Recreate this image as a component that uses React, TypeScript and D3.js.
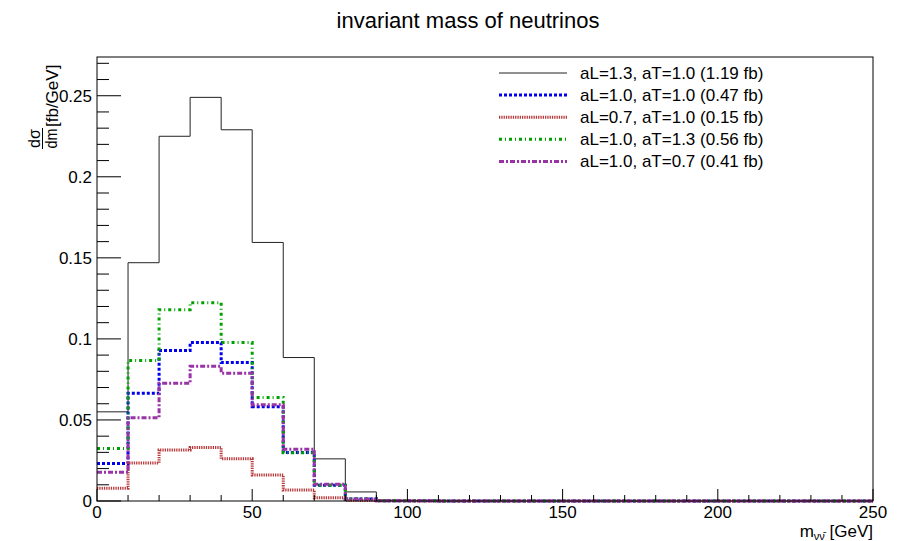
import React, { useRef, useEffect } from "react";
import * as d3 from "d3";

// bin lower edges (GeV), width 10
const binEdges = [0, 10, 20, 30, 40, 50, 60, 70, 80, 90, 100, 110, 120, 130, 140, 150, 160, 170, 180, 190, 200, 210, 220, 230, 240];
const binWidth = 10;

const aL13 = [0.055, 0.147, 0.225, 0.249, 0.229, 0.1595, 0.0885, 0.026, 0.0056, 0.0004, 0.0001, 0, 0, 0, 0, 0, 0, 0, 0, 0, 0, 0, 0, 0, 0];
const aL10 = [0.0231, 0.0664, 0.0928, 0.0978, 0.0854, 0.0582, 0.0299, 0.0097, 0.0012, 0.0002, 0.0001, 0, 0, 0, 0, 0, 0, 0, 0, 0, 0, 0, 0, 0, 0];
const aL07 = [0.0079, 0.0235, 0.0314, 0.033, 0.026, 0.0161, 0.0068, 0.002, 0.0003, 0.0001, 0, 0, 0, 0, 0, 0, 0, 0, 0, 0, 0, 0, 0, 0, 0];
const aT13 = [0.0324, 0.0866, 0.118, 0.1223, 0.0978, 0.0639, 0.0297, 0.0097, 0.0014, 0.0002, 0.0001, 0, 0, 0, 0, 0, 0, 0, 0, 0, 0, 0, 0, 0, 0];
const aT07 = [0.0178, 0.0514, 0.0726, 0.0831, 0.0788, 0.0594, 0.032, 0.0103, 0.0012, 0.0002, 0.0001, 0, 0, 0, 0, 0, 0, 0, 0, 0, 0, 0, 0, 0, 0];

const labels = [
  "aL=1.3, aT=1.0 (1.19 fb)",
  "aL=1.0, aT=1.0 (0.47 fb)",
  "aL=0.7, aT=1.0 (0.15 fb)",
  "aL=1.0, aT=1.3 (0.56 fb)",
  "aL=1.0, aT=0.7 (0.41 fb)",
];

const xMajor = [0, 50, 100, 150, 200, 250];
const yMajor = [0, 0.05, 0.1, 0.15, 0.2, 0.25];
const yLabels = ["0", "0.05", "0.1", "0.15", "0.2", "0.25"];

const FONT = "'Liberation Sans', Arial, Helvetica, sans-serif";

const App = () => {
  const ref = useRef<SVGSVGElement>(null);

  useEffect(() => {
    const width = 902;
    const height = 541;
    const m = { top: 57, right: 29, bottom: 40, left: 97 };

    const svg = d3.select(ref.current);
    svg.selectAll("*").remove();
    svg.attr("width", width).attr("height", height);

    const x = d3.scaleLinear().domain([0, 250]).range([m.left, width - m.right]);
    const y = d3.scaleLinear().domain([0, 0.2739]).range([height - m.bottom, m.top]);

    svg.append("rect").attr("width", width).attr("height", height).attr("fill", "#fff");

    // title
    svg.append("text")
      .attr("x", 468).attr("y", 28)
      .attr("text-anchor", "middle")
      .attr("font-family", FONT).attr("font-size", 22)
      .text("invariant mass of neutrinos");

    const series = [
      { data: aL13, color: "#222222", width: 1, dash: null },
      { data: aL10, color: "#0000ee", width: 3, dash: "3,2" },
      { data: aL07, color: "#b8393b", width: 3, dash: "1.3,1" },
      { data: aT13, color: "#00a000", width: 3, dash: "3,3,1,3" },
      { data: aT07, color: "#9933a6", width: 3, dash: "5,2,2,2" },
    ];

    const line = d3.line<[number, number]>()
      .x(d => x(d[0]))
      .y(d => y(d[1]))
      .curve(d3.curveStepAfter);

    const g = svg.append("g");
    series.forEach(s => {
      const pts: [number, number][] = binEdges.map((e, i) => [e, s.data[i]]);
      pts.push([binEdges[binEdges.length - 1] + binWidth, s.data[s.data.length - 1]]);
      const p = g.append("path")
        .attr("d", line(pts))
        .attr("fill", "none")
        .attr("stroke", s.color)
        .attr("stroke-width", s.width);
      if (s.dash) p.attr("stroke-dasharray", s.dash);
    });

    // frame
    svg.append("rect")
      .attr("x", m.left).attr("y", m.top)
      .attr("width", width - m.right - m.left)
      .attr("height", height - m.bottom - m.top)
      .attr("fill", "none").attr("stroke", "#000").attr("stroke-width", 1);

    // x ticks
    const x0 = height - m.bottom;
    d3.range(0, 251, 10).forEach(v => {
      const major = xMajor.includes(v);
      svg.append("line")
        .attr("x1", x(v)).attr("x2", x(v))
        .attr("y1", x0).attr("y2", x0 - (major ? 12 : 6))
        .attr("stroke", "#000");
    });
    svg.append("g").selectAll("text").data(xMajor).enter().append("text")
      .attr("x", d => x(d)).attr("y", 518)
      .attr("text-anchor", "middle")
      .attr("font-family", FONT).attr("font-size", 17)
      .text(d => d);

    // y ticks
    d3.range(0, 28).forEach(i => {
      const v = i / 100;
      const major = i % 5 === 0;
      svg.append("line")
        .attr("x1", m.left).attr("x2", m.left + (major ? 24 : 12))
        .attr("y1", y(v)).attr("y2", y(v))
        .attr("stroke", "#000");
    });
    svg.append("g").selectAll("text").data(yMajor).enter().append("text")
      .attr("x", 92).attr("y", d => y(d) + 6)
      .attr("text-anchor", "end")
      .attr("font-family", FONT).attr("font-size", 17)
      .text((d, i) => yLabels[i]);

    // y title: d sigma / dm [fb/GeV]
    const yt = svg.append("g").attr("transform", "translate(58,149) rotate(-90)")
      .attr("font-family", FONT);
    yt.append("text").attr("x", 10.5).attr("y", -18).attr("text-anchor", "middle")
      .attr("font-size", 16).text("dσ");
    yt.append("line").attr("x1", 0).attr("x2", 21).attr("y1", -15.5).attr("y2", -15.5)
      .attr("stroke", "#000").attr("stroke-width", 1);
    yt.append("text").attr("x", 10.5).attr("y", -1).attr("text-anchor", "middle")
      .attr("font-size", 16).attr("textLength", 20).attr("lengthAdjust", "spacingAndGlyphs")
      .text("dm");
    yt.append("text").attr("x", 22).attr("y", 0)
      .attr("font-size", 17).text("[fb/GeV]");

    // x title: m_{nu nubar} [GeV]
    const xt = svg.append("text")
      .attr("x", 873).attr("y", 537)
      .attr("text-anchor", "end")
      .attr("font-family", FONT).attr("font-size", 17);
    xt.append("tspan").text("m");
    xt.append("tspan").attr("font-size", 11).attr("dy", 3).text("νν\u0304");
    xt.append("tspan").attr("dy", -3).text(" [GeV]");

    // legend
    const lg = svg.append("g");
    series.forEach((s, i) => {
      const cy = 73 + i * 22.1;
      const l = lg.append("line")
        .attr("x1", 499).attr("x2", 567)
        .attr("y1", cy).attr("y2", cy)
        .attr("stroke", s.color).attr("stroke-width", s.width);
      if (s.dash) l.attr("stroke-dasharray", s.dash);
      lg.append("text")
        .attr("x", 580).attr("y", cy + 6)
        .attr("font-family", FONT).attr("font-size", 17)
        .text(labels[i]);
    });
  }, []);

  return <svg ref={ref} style={{ position: "absolute", left: 0, top: 0 }}></svg>;
};

export default App;
